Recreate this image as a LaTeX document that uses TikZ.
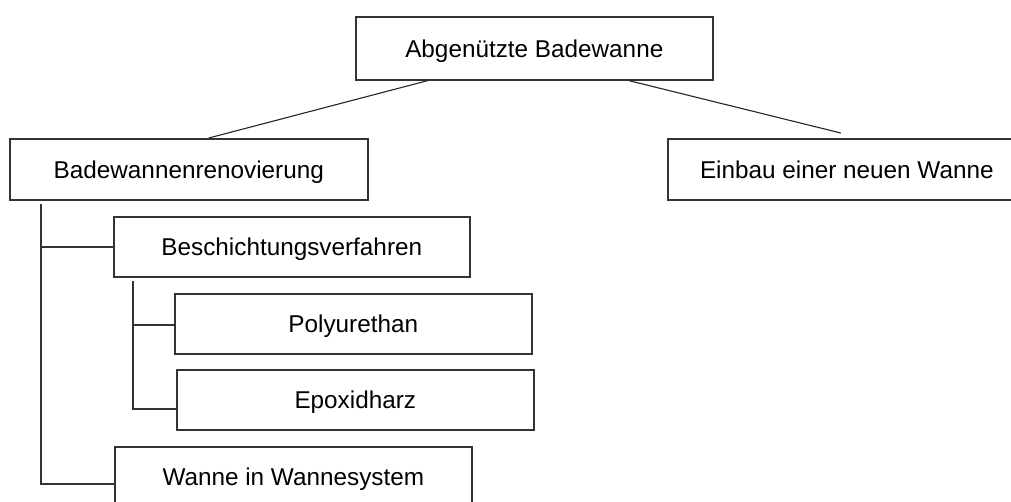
\documentclass[tikz,border=0pt]{standalone}
\usepackage{fontspec}
\setmainfont{Liberation Sans}
\begin{document}
\begin{tikzpicture}[x=1pt,y=-1pt,
  treebox/.style={draw=black!80, line width=1.6pt, fill=white, rectangle,
    anchor=north west, inner sep=0pt, minimum height=60pt,
    font=\fontsize{24.3}{29}\selectfont, text height=17.4pt, text depth=0pt},
  link/.style={draw=black!85, line width=1.1pt},
  branch/.style={draw=black!80, line width=1.6pt}]
\useasboundingbox (0,0) rectangle (1011,501);
\fill[white] (0,0) rectangle (1011,501);
\begin{scope}
\clip (0,0) rectangle (1011,501);
% boxes of the tree
\node[treebox, minimum width=357pt, minimum height=63pt] (top) at (355,16) {Abgenützte Badewanne};
\node[treebox, minimum width=358pt, minimum height=61pt] (reno) at (9,138) {Badewannenrenovierung};
\node[treebox, minimum width=358pt, minimum height=61pt] (einbau) at (667,138) {Einbau einer neuen Wanne};
\node[treebox, minimum width=356pt] (besch) at (113,216) {Beschichtungsverfahren};
\node[treebox, minimum width=357pt] (poly) at (174,293) {Polyurethan};
\node[treebox, minimum width=357pt] (epox) at (176,369) {Epoxidharz};
\node[treebox, minimum width=357pt] (wanne) at (114,446) {Wanne in Wannesystem};
% slanted links from the root
\draw[link] ([xshift=-106.5pt]top.south) -- ([xshift=20pt]reno.north);
\draw[link] ([xshift=94.5pt]top.south) -- ([xshift=-6pt,yshift=5pt]einbau.north);
% first level branch
\coordinate (v1) at ([xshift=-148pt,yshift=-3pt]reno.south);
\draw[branch] (v1) |- ([yshift=-7pt]wanne.west);
\draw[branch] (besch.west) -- (besch.west -| v1);
% second level branch
\coordinate (v2) at ([xshift=-159pt,yshift=-3pt]besch.south);
\draw[branch] (v2) |- ([yshift=-9pt]epox.west);
\draw[branch] ([yshift=-1pt]poly.west) -- ([yshift=-1pt]poly.west -| v2);
\end{scope}
\end{tikzpicture}
\end{document}
